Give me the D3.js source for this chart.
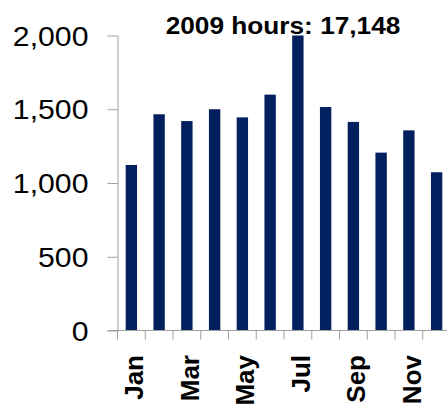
<!DOCTYPE html>
<html><head><meta charset="utf-8">
<script src="https://cdn.jsdelivr.net/npm/d3@7"></script>
<style>
html,body{margin:0;padding:0;background:#fff;}
svg{display:block;}
text{font-family:"Liberation Sans",Arial,sans-serif;fill:#000;}
</style></head>
<body>
<svg id="chart" width="447" height="406"></svg>
<script>
const months = ["Jan","Feb","Mar","Apr","May","Jun","Jul","Aug","Sep","Oct","Nov","Dec"];
const hours = [1122,1466,1420,1500,1445,1599,2000,1515,1414,1206,1357,1073];
const yTicks = [0,500,1000,1500,2000];
const labelMonths = ["Jan","Mar","May","Jul","Sep","Nov"];
const title = "2009 hours: 17,148";

const svg = d3.select("#chart");
const mLeft = 117.5, mRight = 450.5, mTop = 35.5, mBottom = 330.5;

const x = d3.scaleBand().domain(months).range([mLeft, mRight]).paddingInner(0.59).paddingOuter(0.295);
const xb = d3.scaleLinear().domain([0, months.length]).range([mLeft, mRight]);
const y = d3.scaleLinear().domain([0, 2000]).range([mBottom, mTop]).clamp(true);

// bars
svg.append("g").selectAll("rect").data(months).join("rect")
  .attr("x", d => x(d))
  .attr("width", x.bandwidth())
  .attr("y", (d,i) => y(hours[i]))
  .attr("height", (d,i) => y(0) - y(hours[i]))
  .attr("fill", "#03205e");

// y axis
const yAxis = svg.append("g").attr("transform", `translate(${mLeft},0)`)
  .call(d3.axisLeft(y).tickValues(yTicks).tickSize(10).tickSizeOuter(0).tickFormat(d3.format(",")));
yAxis.select(".domain").attr("stroke", "#a0a0a0");
yAxis.selectAll(".tick line").attr("stroke", "#a0a0a0");
yAxis.selectAll(".tick text")
  .attr("x", null).attr("dy", "0.36em")
  .attr("transform", "translate(-29,0) scale(1.12,1)")
  .style("font-size", "27px")
  .style("font-family", "'Liberation Sans',Arial,sans-serif");

// x axis line + boundary ticks
const xg = svg.append("g");
xg.append("line").attr("x1", mLeft - 10).attr("x2", 447).attr("y1", mBottom).attr("y2", mBottom)
  .attr("stroke", "#a0a0a0");
xg.selectAll("line.tk").data(d3.range(months.length + 1)).join("line").attr("class","tk")
  .attr("x1", d => xb(d)).attr("x2", d => xb(d))
  .attr("y1", mBottom).attr("y2", mBottom + 9)
  .attr("stroke", "#a0a0a0");

// month labels
xg.selectAll("text.m").data(labelMonths).join("text").attr("class","m")
  .attr("transform", d => `translate(${x(d) + x.bandwidth()/2 + 12},${355}) rotate(-90)`)
  .attr("text-anchor", "end")
  .style("font-size", "26px")
  .style("font-weight", "bold")
  .text(d => d);

// title
svg.append("text")
  .attr("transform", "translate(283,33.5) scale(1.14,1)")
  .attr("text-anchor", "middle")
  .style("font-size", "23px")
  .style("font-weight", "bold")
  .text(title);
</script>
</body></html>
